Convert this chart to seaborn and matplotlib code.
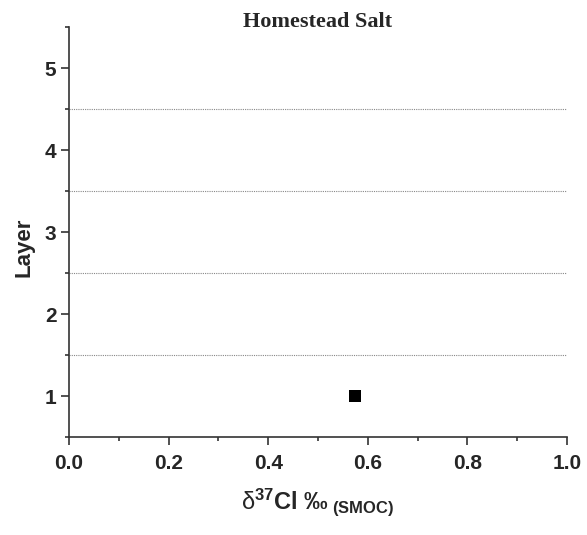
import matplotlib
matplotlib.use("Agg")
import matplotlib.pyplot as plt
import seaborn as sns
import pandas as pd
from matplotlib.ticker import MultipleLocator

delta37cl = [0.575]
layer = [1]
grid_levels = [1.5, 2.5, 3.5, 4.5]
title = "Homestead Salt"

sns.set_theme(style="ticks")
plt.rcParams['font.family'] = ['Liberation Sans', 'DejaVu Sans']
plt.rcParams['mathtext.fontset'] = 'custom'
plt.rcParams['mathtext.rm'] = 'Liberation Sans'
plt.rcParams['mathtext.bf'] = 'Liberation Sans:bold'
plt.rcParams['mathtext.it'] = 'Liberation Sans:italic'

fig = plt.figure(figsize=(5.87, 5.35), dpi=100)
ax = fig.add_axes([69/587, 1-437/535, (567-69)/587, (437-27)/535])

df = pd.DataFrame({"x": delta37cl, "y": layer})
sns.scatterplot(data=df, x="x", y="y", ax=ax, marker="s", s=80, color="black",
                edgecolor="black", linewidth=0, zorder=3)

for g in grid_levels:
    ax.axhline(g, color="#888888", lw=0.8, ls=(0, (1, 1)), zorder=1)

ax.set_xlim(0, 1.0)
ax.set_ylim(0.5, 5.5)
ax.xaxis.set_major_locator(MultipleLocator(0.2))
ax.xaxis.set_minor_locator(MultipleLocator(0.1))
ax.yaxis.set_major_locator(MultipleLocator(1))
ax.yaxis.set_minor_locator(MultipleLocator(0.5))
ax.tick_params(axis="both", which="major", length=6, width=1.2, direction="out",
               labelsize=15, color="#333333")
ax.tick_params(axis="x", which="major", pad=6)
ax.tick_params(axis="y", which="major", pad=3)
ax.tick_params(axis="both", which="minor", length=3, width=1.2, direction="out",
               color="#333333")
ax.set_xticks([0, 0.2, 0.4, 0.6, 0.8, 1.0])
ax.set_xticklabels(["0.0", "0.2", "0.4", "0.6", "0.8", "1.0"], fontweight="bold")
ax.set_yticks([1, 2, 3, 4, 5])
ax.set_yticklabels(["1", "2", "3", "4", "5"], fontweight="bold")

sns.despine(ax=ax)
for sp in ["left", "bottom"]:
    ax.spines[sp].set_linewidth(1.2)
    ax.spines[sp].set_color("#333333")

ax.set_ylabel("Layer", fontsize=16, fontweight="bold")
ax.yaxis.set_label_coords((34-69)/498, (437-247)/410)
ax.set_xlabel(r"$\mathrm{δ}^{\mathbf{37}}\mathbf{Cl\ ‰}_{\mathbf{\ (SMOC)}}$", fontsize=17)
ax.xaxis.set_label_coords((317-69)/498, -(486-437)/410)
fig.text((68+567)/2/587, 1-22/535, title, ha="center", va="center",
         fontsize=16, fontweight="bold", family=["Liberation Serif", "DejaVu Serif"])

fig.savefig("out.png", dpi=100)
